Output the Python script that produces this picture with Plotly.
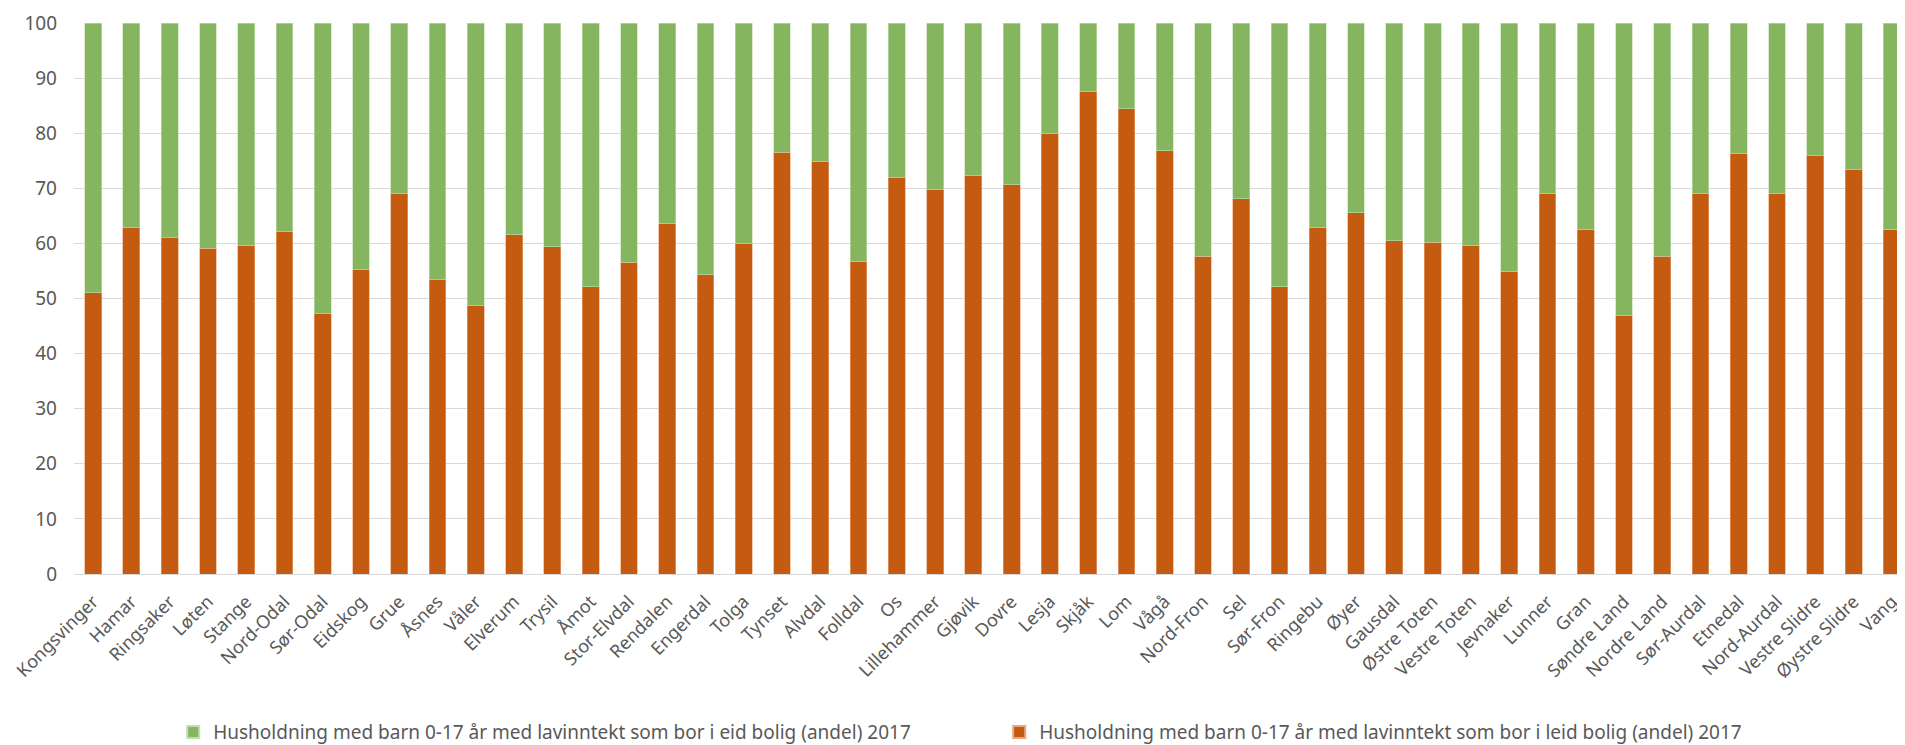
import plotly.graph_objects as go

kommuner = ["Kongsvinger", "Hamar", "Ringsaker", "Løten", "Stange", "Nord-Odal", "Sør-Odal",
            "Eidskog", "Grue", "Åsnes", "Våler", "Elverum", "Trysil", "Åmot", "Stor-Elvdal",
            "Rendalen", "Engerdal", "Tolga", "Tynset", "Alvdal", "Folldal", "Os", "Lillehammer",
            "Gjøvik", "Dovre", "Lesja", "Skjåk", "Lom", "Vågå", "Nord-Fron", "Sel", "Sør-Fron",
            "Ringebu", "Øyer", "Gausdal", "Østre Toten", "Vestre Toten", "Jevnaker", "Lunner",
            "Gran", "Søndre Land", "Nordre Land", "Sør-Aurdal", "Etnedal", "Nord-Aurdal",
            "Vestre Slidre", "Øystre Slidre", "Vang"]

leid = [51.0, 62.8, 61.1, 59.1, 59.7, 62.2, 47.3, 55.2, 69.0, 53.5, 48.7, 61.6, 59.4, 52.1,
        56.6, 63.6, 54.3, 59.9, 76.5, 74.9, 56.8, 72.0, 69.8, 72.3, 70.6, 79.9, 87.5, 84.4,
        76.8, 57.7, 68.1, 52.1, 62.8, 65.6, 60.5, 60.2, 59.7, 54.9, 69.0, 62.5, 47.0, 57.7,
        69.0, 76.3, 69.0, 76.0, 73.5, 62.5]

eid = [round(100 - v, 1) for v in leid]

name_eid = "Husholdning med barn 0-17 år med lavinntekt som bor i eid bolig (andel) 2017"
name_leid = "Husholdning med barn 0-17 år med lavinntekt som bor i leid bolig (andel) 2017"

fig = go.Figure()
fig.add_trace(go.Bar(x=kommuner, y=leid, name=name_leid, marker_color="#C55A11",
                     marker_line=dict(color="#E9A77A", width=0.6)))
fig.add_trace(go.Bar(x=kommuner, y=eid, name=name_eid, marker_color="#86B55F",
                     marker_line=dict(color="#C5DDB0", width=0.6)))

font_family = "Noto Sans, Open Sans, sans-serif"
fig.update_layout(
    barmode="stack",
    bargap=0.56,
    width=1905, height=745,
    margin=dict(l=66, r=2, t=15, b=172),
    paper_bgcolor="white", plot_bgcolor="white",
    font=dict(family=font_family, color="#595959", size=19),
    showlegend=True,
    legend=dict(orientation="h", x=0.054, xanchor="left", y=-0.287, yanchor="middle",
                font=dict(size=19, color="#595959"), entrywidth=781, entrywidthmode="pixels",
                itemsizing="constant", traceorder="reversed"),
    xaxis=dict(tickangle=-45, tickfont=dict(size=18, color="#595959"), showline=True,
               linecolor="#D9D9D9", linewidth=1, automargin=False, ticks="",
               ticklabelstandoff=9),
    yaxis=dict(range=[0, 100], dtick=10, showgrid=True, gridcolor="#D9D9D9", gridwidth=1,
               tickfont=dict(size=19, color="#595959"), zeroline=False, automargin=False,
               ticks="", ticklabelstandoff=16),
)

fig.write_html("out.html")
